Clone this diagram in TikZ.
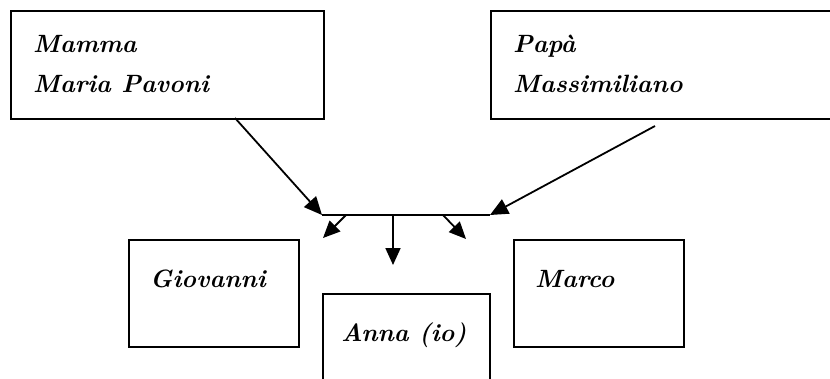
\documentclass[tikz,border=0pt]{standalone}
\usetikzlibrary{arrows.meta}
\begin{document}
\begin{tikzpicture}[x=1pt,y=-1pt,
  box/.style={draw, line width=2pt, rectangle, inner sep=0pt, anchor=north west},
  lbl/.style={anchor=base west, inner sep=0pt, font=\bfseries\itshape\fontsize{25}{40}\selectfont},
  conn/.style={line width=1.8pt, -{Triangle[length=18pt,width=16pt]}},
  small/.style={line width=1.8pt, -{Triangle[length=17pt,width=15pt]}}]
\useasboundingbox (0,0) rectangle (830,378);
\clip (0,0) rectangle (830,378);
% boxes
\node[box, minimum width=313pt, minimum height=108pt] (mamma) at (10,10) {};
\node[box, minimum width=360pt, minimum height=108pt] (papa) at (490,10) {};
\node[box, minimum width=170pt, minimum height=107pt] (giovanni) at (128,239) {};
\node[box, minimum width=167pt, minimum height=130pt] (anna) at (322,293) {};
\node[box, minimum width=170pt, minimum height=107pt] (marco) at (513,239) {};
% labels
\node[lbl] (t1) at (33,52) {Mamma};
\node[lbl] (t2) at (33,92) {Maria Pavoni};
\node[lbl] (t3) at (513,52) {Pap\`a};
\node[lbl] (t4) at (513,92) {Massimiliano};
\node[lbl] (t5) at (150,287) {Giovanni};
\node[lbl] (t6) at (341,341) {Anna (io)};
\node[lbl] (t7) at (535,287) {Marco};
% junction
\coordinate (jl) at (322,215);
\coordinate (jr) at (490,215);
\coordinate (m1) at (235,118);
\coordinate (p1) at (655,126);
\coordinate (s1) at (346,215);
\coordinate (s2) at (393,215);
\coordinate (s3) at (443,215);
\coordinate (e1) at (323,238);
\coordinate (e2) at (393,265);
\coordinate (e3) at (466,239);
\draw[line width=1.8pt] (jl) -- (jr);
\draw[conn] (m1) -- (jl);
\draw[conn] (p1) -- (jr);
\draw[small] (s1) -- (e1);
\draw[small] (s2) -- (e2);
\draw[small] (s3) -- (e3);
\end{tikzpicture}
\end{document}
